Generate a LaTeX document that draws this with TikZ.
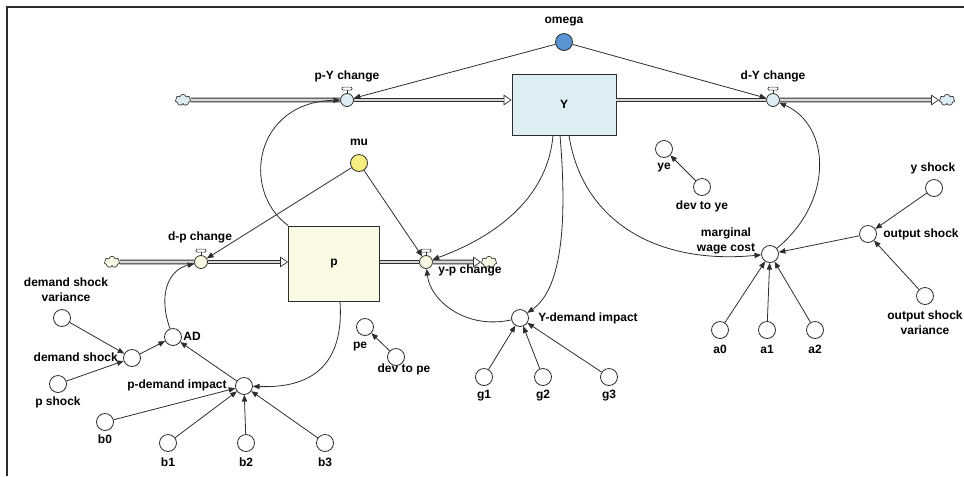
\documentclass[tikz,border=0pt]{standalone}
\usepackage{fontspec}
\setmainfont{Liberation Sans}
\usetikzlibrary{arrows.meta,shapes.symbols}
\definecolor{ln}{RGB}{45,45,45}
\definecolor{bluefill}{RGB}{220,237,243}
\definecolor{yelfill}{RGB}{251,250,228}
\definecolor{omegablue}{RGB}{88,148,210}
\definecolor{muyellow}{RGB}{246,238,128}
\definecolor{pipein}{RGB}{215,215,215}
\begin{document}
\begin{tikzpicture}[x=0.75pt,y=-0.75pt,
  every node/.style={font=\fontsize{9}{11}\selectfont\bfseries},
  aux/.style={circle,draw=ln,line width=0.6pt,fill=white,minimum size=12.75pt,inner sep=0pt},
  txt/.style={inner sep=0pt,align=center},
  stock/.style={rectangle,draw=ln,line width=0.6pt},
  valve/.style={circle,draw=ln,line width=0.6pt,minimum size=9.75pt,inner sep=0pt},
  src/.style={cloud,cloud puffs=7,cloud ignores aspect,draw=ln,line width=0.5pt,minimum width=11.5pt,minimum height=8.5pt,inner sep=0pt},
  link/.style={draw=ln,line width=0.6pt,-{Triangle[length=5pt,width=4pt]}},
  pipe/.style={draw=ln,line width=0.6pt,double=pipein,double distance=2.2pt},
  pipetip/.style={draw=ln,line width=0.5pt,-{Triangle[length=6pt,width=8pt,fill=white]}},
  handlebar/.style={draw=ln,line width=0.5pt,fill=white,rounded corners=0.8pt}
]
\useasboundingbox (0,0) rectangle (964,476);
\draw[ln,line width=1pt] (7,476) -- (7,7) -- (964,7);

% ---- top flow
\node[aux,fill=omegablue] (omega) at (564,42) {};
\node[txt] (tomega) at (564,22) {omega};
\node[valve,fill=bluefill] (vPY) at (347,100) {};
\node[txt] (tPY) at (347,76) {p-Y change};
\node[stock,fill=bluefill,minimum width=78pt,minimum height=45.75pt] (Y) at (564,104.5) {Y};
\node[valve,fill=bluefill] (vDY) at (773,100) {};
\node[txt] (tDY) at (773,76) {d-Y change};
\node[src,fill=bluefill] (cl1) at (183,100) {};
\node[src,fill=bluefill] (cl2) at (947,100) {};

% ---- bottom flow
\node[aux,fill=muyellow] (mu) at (359,163) {};
\node[txt] (tmu) at (359,142) {mu};
\node[stock,fill=yelfill,minimum width=68.25pt,minimum height=56.25pt] (p) at (334,263.5) {p};
\node[valve,fill=yelfill] (vDP) at (201,262) {};
\node[txt] (tDP) at (200,237) {d-p change};
\node[valve,fill=yelfill] (vYP) at (426,262) {};
\node[src,fill=yelfill] (cl3) at (112,262) {};
\node[src,fill=yelfill] (cl4) at (489,262) {};

% pipes
\draw[pipe] (cl1) -- (vPY);
\draw[pipetip] (vPY) -- (vPY -| Y.west);
\draw[pipe,shorten >=6pt] (vPY) -- (vPY -| Y.west);
\draw[pipe] (vDY -| Y.east) -- (vDY);
\draw[pipetip] (vDY) -- (cl2);
\draw[pipe,shorten >=6pt] (vDY) -- (cl2);
\draw[pipe] (cl3) -- (vDP);
\draw[pipetip] (vDP) -- (vDP -| p.west);
\draw[pipe,shorten >=6pt] (vDP) -- (vDP -| p.west);
\draw[pipe] (vYP -| p.east) -- (vYP);
\draw[pipetip] (vYP) -- (cl4);
\draw[pipe,shorten >=6pt] (vYP) -- (cl4);
\node[txt] (tYP) at (470,270) {y-p change};

\foreach \v in {vPY,vDY,vDP,vYP}{
  \draw[ln,line width=0.5pt] (\v.north) -- ([shift={(0,-3)}]\v.north);
  \draw[handlebar] ([shift={(-5,-3)}]\v.north) rectangle ([shift={(5,-6)}]\v.north);
}

% ---- auxiliaries, left
\node[aux] (dsv) at (62,318) {};
\node[txt] (tdsv) at (66,289.5) {demand shock\\variance};
\node[aux] (ds) at (132,358) {};
\node[txt,anchor=east] (tds) at (118,357) {demand shock};
\node[aux] (ps) at (58,384) {};
\node[txt] (tps) at (58,402) {p shock};
\node[aux] (AD) at (173,337) {};
\node[txt] (tAD) at (192,336) {AD};
\node[aux] (pDI) at (244,386) {};
\node[txt] (tpDI) at (177,385) {p-demand impact};
\node[aux] (b0) at (105,422) {};
\node[txt] (tb0) at (105,439) {b0};
\node[aux] (b1) at (168,443) {};
\node[txt] (tb1) at (168,462) {b1};
\node[aux] (b2) at (246,443) {};
\node[txt] (tb2) at (246,462) {b2};
\node[aux] (b3) at (325,443) {};
\node[txt] (tb3) at (325,462) {b3};
\node[aux] (pe) at (365,327) {};
\node[txt] (tpe) at (360,346) {pe};
\node[aux] (dpe) at (396,357) {};
\node[txt] (tdpe) at (404,369) {dev to pe};

% ---- auxiliaries, middle
\node[aux] (YDI) at (520,318) {};
\node[txt] (tYDI) at (588,318) {Y-demand impact};
\node[aux] (g1) at (484,377) {};
\node[txt] (tg1) at (484,396) {g1};
\node[aux] (g2) at (543,377) {};
\node[txt] (tg2) at (543,396) {g2};
\node[aux] (g3) at (609,377) {};
\node[txt] (tg3) at (609,396) {g3};

% ---- auxiliaries, right
\node[aux] (ye) at (664,149) {};
\node[txt] (tye) at (664,168) {ye};
\node[aux] (dye) at (702,187) {};
\node[txt] (tdye) at (702,206) {dev to ye};
\node[aux] (ysh) at (934,188) {};
\node[txt] (tysh) at (933,168) {y shock};
\node[aux] (osh) at (868,234) {};
\node[txt] (tosh) at (921,234) {output shock};
\node[aux] (osv) at (925,296) {};
\node[txt] (tosv) at (925,323) {output shock\\variance};
\node[aux] (mwc) at (770,254) {};
\node[txt] (tmwc) at (726,241) {marginal\\wage cost};
\node[aux] (a0) at (720,330) {};
\node[txt] (ta0) at (720,349) {a0};
\node[aux] (a1) at (767,330) {};
\node[txt] (ta1) at (767,349) {a1};
\node[aux] (a2) at (815,330) {};
\node[txt] (ta2) at (815,349) {a2};

% ---- straight links
\draw[link] (omega) -- (vPY);
\draw[link] (omega) -- (vDY);
\draw[link] (mu) -- (vDP);
\draw[link] (mu) -- (vYP);
\draw[link] (dsv) -- (ds);
\draw[link] (ps) -- (ds);
\draw[link] (ds) -- (AD);
\draw[link] (pDI) -- (AD);
\draw[link] (b0) -- (pDI);
\draw[link] (b1) -- (pDI);
\draw[link] (b2) -- (pDI);
\draw[link] (b3) -- (pDI);
\draw[link] (dpe) -- (pe);
\draw[link] (g1) -- (YDI);
\draw[link] (g2) -- (YDI);
\draw[link] (g3) -- (YDI);
\draw[link] (dye) -- (ye);
\draw[link] (ysh) -- (osh);
\draw[link] (osv) -- (osh);
\draw[link] (osh) -- (mwc);
\draw[link] (a0) -- (mwc);
\draw[link] (a1) -- (mwc);
\draw[link] (a2) -- (mwc);

% ---- curved links
\draw[link] (p.north west) .. controls (240,190) and (255,102) .. (vPY);
\draw[link] ([shift={(-11,0)}]Y.south) .. controls (548,195) and (500,235) .. (vYP);
\draw[link] ([shift={(-4,0)}]Y.south) .. controls (568,230) and (560,290) .. (YDI);
\draw[link] ([shift={(5,0)}]Y.south) .. controls (582,220) and (655,265) .. (mwc);
\draw[link] (mwc) .. controls (835,200) and (830,125) .. (vDY);
\draw[link] (AD) .. controls (158,295) and (168,270) .. (vDP);
\draw[link] ([shift={(6,0)}]p.south) .. controls (345,375) and (300,388) .. (pDI);
\draw[link] (YDI) .. controls (465,330) and (430,300) .. (vYP);
\end{tikzpicture}
\end{document}
